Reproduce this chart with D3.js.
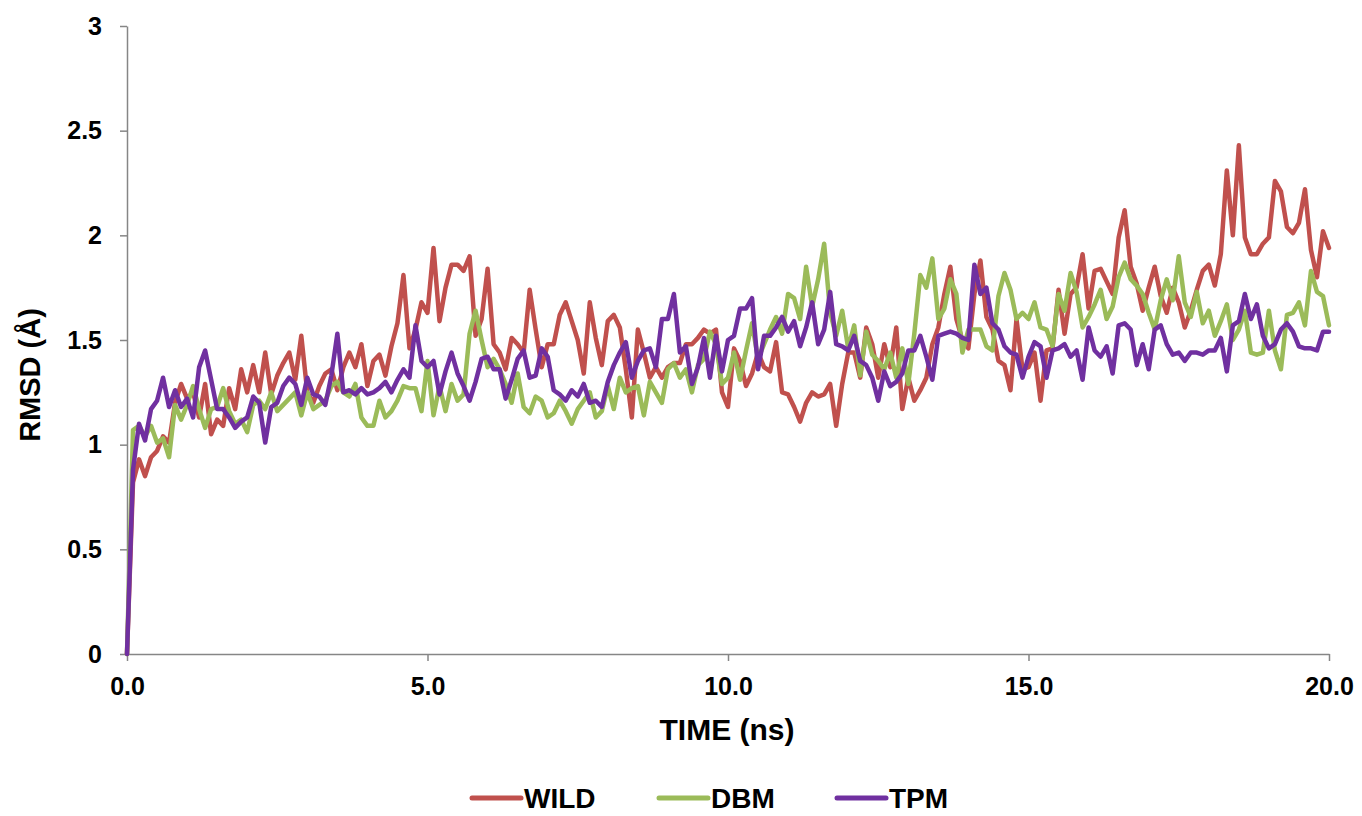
<!DOCTYPE html>
<html lang="en">
<head>
<meta charset="UTF-8">
<title>RMSD vs time</title>
<script src="https://cdn.jsdelivr.net/npm/d3@7"></script>
<style>
  body { margin: 0; background: #fff; }
  text { font-family: "Liberation Sans", Arial, sans-serif; font-weight: bold; fill: #000; }
</style>
</head>
<body>
<script>
// RMSD (Å) sampled every 0.1 ns from 0 to 20 ns (201 frames)
const WILD = [0,0.82,0.93,0.85,0.94,0.97,1.04,1.01,1.20,1.29,1.22,1.25,1.13,1.29,1.05,1.12,1.09,1.27,1.17,1.36,
  1.25,1.38,1.25,1.44,1.24,1.33,1.39,1.44,1.31,1.52,1.25,1.20,1.28,1.34,1.36,1.26,1.37,1.44,1.37,1.48,
  1.28,1.40,1.43,1.33,1.47,1.58,1.81,1.46,1.55,1.68,1.63,1.94,1.59,1.75,1.86,1.86,1.83,1.90,1.52,1.60,
  1.84,1.48,1.44,1.36,1.51,1.48,1.44,1.74,1.55,1.37,1.48,1.48,1.62,1.68,1.59,1.50,1.34,1.68,1.51,1.38,
  1.59,1.62,1.56,1.36,1.13,1.55,1.44,1.32,1.37,1.32,1.37,1.39,1.39,1.48,1.48,1.51,1.55,1.53,1.55,1.25,
  1.18,1.46,1.40,1.28,1.34,1.44,1.37,1.35,1.49,1.25,1.24,1.18,1.11,1.20,1.25,1.23,1.24,1.29,1.09,1.29,
  1.44,1.44,1.32,1.56,1.48,1.32,1.48,1.37,1.56,1.17,1.32,1.21,1.26,1.32,1.48,1.56,1.72,1.85,1.60,1.50,
  1.46,1.72,1.88,1.61,1.55,1.40,1.38,1.26,1.60,1.36,1.37,1.44,1.21,1.45,1.46,1.74,1.53,1.72,1.75,1.91,
  1.65,1.83,1.84,1.78,1.72,1.99,2.12,1.85,1.77,1.64,1.75,1.85,1.71,1.63,1.75,1.68,1.56,1.64,1.74,1.83,
  1.86,1.76,1.91,2.31,2.00,2.43,1.99,1.91,1.91,1.96,1.99,2.26,2.21,2.04,2.01,2.06,2.22,1.93,1.80,2.02,
  1.94];

const DBM = [0,1.07,1.09,1.04,1.09,1.01,1.03,0.94,1.19,1.12,1.19,1.28,1.17,1.08,1.17,1.18,1.27,1.16,1.10,1.12,
  1.06,1.19,1.21,1.17,1.25,1.16,1.19,1.22,1.25,1.14,1.25,1.17,1.19,1.21,1.28,1.30,1.25,1.23,1.29,1.13,
  1.09,1.09,1.21,1.13,1.16,1.21,1.28,1.27,1.27,1.16,1.40,1.14,1.28,1.16,1.29,1.21,1.24,1.53,1.64,1.50,
  1.37,1.41,1.36,1.29,1.20,1.34,1.18,1.15,1.23,1.21,1.13,1.15,1.21,1.16,1.10,1.17,1.21,1.25,1.13,1.16,
  1.28,1.17,1.32,1.25,1.27,1.28,1.14,1.30,1.25,1.20,1.36,1.39,1.32,1.36,1.25,1.38,1.41,1.54,1.48,1.29,
  1.32,1.44,1.31,1.45,1.58,1.41,1.48,1.55,1.61,1.53,1.72,1.70,1.60,1.85,1.66,1.79,1.96,1.63,1.52,1.64,
  1.46,1.57,1.33,1.54,1.43,1.40,1.36,1.44,1.32,1.46,1.29,1.53,1.81,1.75,1.89,1.60,1.65,1.79,1.72,1.44,
  1.55,1.55,1.55,1.47,1.45,1.71,1.82,1.74,1.60,1.63,1.60,1.68,1.56,1.55,1.47,1.72,1.64,1.82,1.73,1.56,
  1.61,1.67,1.74,1.60,1.66,1.80,1.87,1.79,1.76,1.72,1.63,1.55,1.69,1.79,1.69,1.90,1.68,1.61,1.73,1.58,
  1.64,1.52,1.59,1.67,1.50,1.55,1.64,1.44,1.43,1.44,1.64,1.45,1.36,1.62,1.63,1.68,1.57,1.83,1.73,1.71,
  1.57];

const TPM = [0,0.88,1.10,1.02,1.17,1.21,1.32,1.18,1.26,1.18,1.22,1.13,1.37,1.45,1.31,1.17,1.17,1.13,1.08,1.11,
  1.13,1.23,1.20,1.01,1.18,1.20,1.28,1.32,1.29,1.19,1.32,1.24,1.23,1.19,1.33,1.53,1.25,1.26,1.24,1.27,
  1.24,1.25,1.27,1.30,1.25,1.31,1.36,1.32,1.57,1.40,1.37,1.40,1.24,1.35,1.44,1.34,1.28,1.21,1.30,1.41,
  1.42,1.36,1.36,1.22,1.31,1.41,1.45,1.32,1.33,1.46,1.42,1.26,1.24,1.21,1.26,1.23,1.29,1.20,1.21,1.18,
  1.30,1.38,1.44,1.49,1.32,1.40,1.45,1.46,1.37,1.60,1.60,1.72,1.44,1.47,1.29,1.37,1.51,1.32,1.52,1.35,
  1.50,1.52,1.65,1.65,1.70,1.36,1.52,1.52,1.56,1.61,1.54,1.59,1.47,1.56,1.68,1.48,1.55,1.73,1.48,1.47,
  1.45,1.52,1.40,1.38,1.32,1.21,1.35,1.28,1.30,1.34,1.45,1.45,1.52,1.42,1.31,1.52,1.53,1.54,1.53,1.51,
  1.50,1.86,1.72,1.75,1.58,1.55,1.47,1.44,1.43,1.32,1.42,1.49,1.47,1.32,1.45,1.46,1.48,1.42,1.45,1.31,
  1.56,1.45,1.42,1.47,1.34,1.57,1.58,1.55,1.38,1.48,1.36,1.55,1.57,1.48,1.43,1.44,1.40,1.44,1.44,1.43,
  1.45,1.45,1.51,1.35,1.57,1.59,1.72,1.60,1.67,1.52,1.46,1.48,1.55,1.58,1.54,1.47,1.46,1.46,1.45,1.54,
  1.54];

const timeStep = 0.1; // ns between frames
const xTicks = [0, 5, 10, 15, 20];
const yTicks = [0, 0.5, 1, 1.5, 2, 2.5, 3];
const seriesNames = ["WILD", "DBM", "TPM"];
const seriesColors = ["#C0504D", "#9BBB59", "#7030A0"];

const width = 1362, height = 816;
const plot = { left: 127, right: 1329, top: 26, bottom: 654 };

const svg = d3.select("body").append("svg")
  .attr("width", width).attr("height", height);

const x = d3.scaleLinear().domain([0, 20]).range([plot.left, plot.right]);
const y = d3.scaleLinear().domain([0, 3]).range([plot.bottom, plot.top]);

// axes
const xAxis = svg.append("g")
  .attr("transform", `translate(0,${plot.bottom})`)
  .call(d3.axisBottom(x).tickValues(xTicks).tickFormat(d3.format(".1f"))
    .tickSize(7).tickSizeOuter(0).tickPadding(16));

const yAxis = svg.append("g")
  .attr("transform", `translate(${plot.left},0)`)
  .call(d3.axisLeft(y).tickValues(yTicks).tickFormat(d => String(d))
    .tickSize(7).tickSizeOuter(0).tickPadding(18));

[xAxis, yAxis].forEach(a => {
  a.select(".domain").attr("stroke", "#868686").attr("stroke-width", 1.5);
  a.selectAll(".tick line").attr("stroke", "#868686").attr("stroke-width", 1.5);
  a.selectAll(".tick text").attr("font-size", 25).attr("font-family", null).attr("fill", "#000");
});

// series, drawn in legend order so TPM sits on top
const data = [WILD, DBM, TPM];
const line = d3.line()
  .x((d, i) => x(i * timeStep))
  .y(d => y(d));

svg.append("g").selectAll("path")
  .data(data)
  .enter().append("path")
  .attr("d", line)
  .attr("fill", "none")
  .attr("stroke", (d, i) => seriesColors[i])
  .attr("stroke-width", 4.5)
  .attr("stroke-linejoin", "round")
  .attr("stroke-linecap", "round");

// axis titles
svg.append("text")
  .attr("x", 727).attr("y", 740)
  .attr("text-anchor", "middle")
  .attr("font-size", 30)
  .text("TIME (ns)");

svg.append("text")
  .attr("transform", "translate(40,375) rotate(-90)")
  .attr("text-anchor", "middle")
  .attr("font-size", 29)
  .text("RMSD (Å)");

// legend
const legendX = [472, 659, 837];
const legend = svg.append("g").selectAll("g")
  .data(seriesNames)
  .enter().append("g")
  .attr("transform", (d, i) => `translate(${legendX[i]},798)`);

legend.append("line")
  .attr("x1", 0).attr("x2", 49).attr("y1", 0).attr("y2", 0)
  .attr("stroke", (d, i) => seriesColors[i])
  .attr("stroke-width", 5)
  .attr("stroke-linecap", "round");

legend.append("text")
  .attr("x", 52).attr("y", 10)
  .attr("font-size", 28)
  .text(d => d);
</script>
</body>
</html>
